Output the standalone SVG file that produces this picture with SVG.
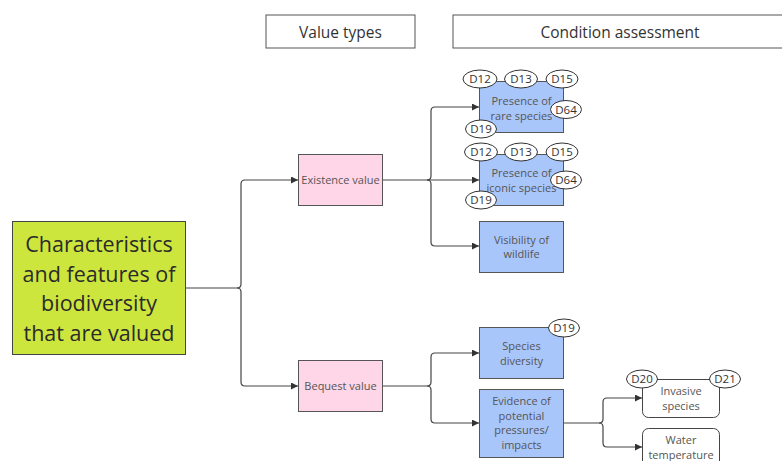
<svg xmlns="http://www.w3.org/2000/svg" width="782" height="461" viewBox="0 0 782 461">
<style>
  text { font-family: "Open Sans", "Noto Sans", "DejaVu Sans", sans-serif; text-anchor: middle; }
  .hdr rect { fill: #ffffff; stroke: #555555; stroke-width: 1; }
  .hdr text { font-size: 15.5px; fill: #333333; }
  .main rect { fill: #cde63e; stroke: #444444; stroke-width: 1; }
  .main text { font-size: 21.5px; fill: #2b2b2b; }
  .val rect { fill: #ffd6e7; stroke: #555555; stroke-width: 1; }
  .cond rect { fill: #a9c6fb; stroke: #555555; stroke-width: 1; }
  .white rect { fill: #ffffff; stroke: #444444; stroke-width: 1; }
  .lbl { font-size: 11px; fill: #555555; }
  .tag ellipse { fill: #ffffff; stroke: #333333; stroke-width: 1; }
  .tag text { font-size: 11.5px; fill: #333333; }
  .conn path { fill: none; stroke: #444444; stroke-width: 1.2; }
</style>
<defs>
  <marker id="arr" viewBox="0 0 10 10" refX="10" refY="5" markerWidth="7" markerHeight="7" markerUnits="userSpaceOnUse" orient="auto">
    <path d="M0,0 L10,5 L0,10 z" fill="#333333"/>
  </marker>
</defs>

<g id="header-value-types" class="hdr">
  <rect x="266" y="15" width="149" height="33"/>
  <text x="340.5" y="37.5">Value types</text>
</g>
<g id="header-condition" class="hdr">
  <rect x="453" y="15" width="340" height="33"/>
  <text x="620" y="37.5">Condition assessment</text>
</g>

<g id="connectors" class="conn">
  <path d="M185,288 H237 Q241,288 241,284 V184 Q241,180 245,180 H298" marker-end="url(#arr)"/>
  <path d="M237,288 Q241,288 241,292 V382 Q241,386 245,386 H298" marker-end="url(#arr)"/>
  <path d="M383,180 H427 Q431,180 431,176 V111 Q431,107 435,107 H479" marker-end="url(#arr)"/>
  <path d="M427,180 H479" marker-end="url(#arr)"/>
  <path d="M427,180 Q431,180 431,184 V242 Q431,246 435,246 H479" marker-end="url(#arr)"/>
  <path d="M383,386 H427 Q431,386 431,382 V357 Q431,353 435,353 H479" marker-end="url(#arr)"/>
  <path d="M427,386 Q431,386 431,390 V419 Q431,423 435,423 H479" marker-end="url(#arr)"/>
  <path d="M564,423 H599 Q603,423 603,419 V402 Q603,398 607,398 H642" marker-end="url(#arr)"/>
  <path d="M599,423 Q603,423 603,427 V443 Q603,447 607,447 H642" marker-end="url(#arr)"/>
</g>

<g id="main" class="main">
  <rect x="12.5" y="221.5" width="173" height="133"/>
  <text x="99" y="252">Characteristics</text>
  <text x="99" y="281.5">and features of</text>
  <text x="99" y="311">biodiversity</text>
  <text x="99" y="340.5">that are valued</text>
</g>

<g id="existence-value" class="val">
  <rect x="298.5" y="154.5" width="84" height="51"/>
  <text class="lbl" x="340.5" y="184">Existence value</text>
</g>
<g id="bequest-value" class="val">
  <rect x="298.5" y="360.5" width="84" height="51"/>
  <text class="lbl" x="340.5" y="390">Bequest value</text>
</g>

<g id="rare-species">
  <g class="cond"><rect x="479.5" y="81.5" width="84" height="51"/></g>
  <text class="lbl" x="521.5" y="105">Presence of</text>
  <text class="lbl" x="521.5" y="119.5">rare species</text>
  <g class="tag">
    <ellipse cx="480" cy="79" rx="17" ry="9"/><text x="480" y="83">D12</text>
    <ellipse cx="521" cy="79" rx="16.5" ry="9"/><text x="521" y="83">D13</text>
    <ellipse cx="562" cy="79" rx="16" ry="9"/><text x="562" y="83">D15</text>
    <ellipse cx="566" cy="109.5" rx="15.5" ry="9"/><text x="566" y="113.5">D64</text>
    <ellipse cx="481" cy="129" rx="15.5" ry="9"/><text x="481" y="133">D19</text>
  </g>
</g>

<g id="iconic-species">
  <g class="cond"><rect x="479.5" y="154.5" width="84" height="51"/></g>
  <text class="lbl" x="521.5" y="177">Presence of</text>
  <text class="lbl" x="521.5" y="191.5">iconic species</text>
  <g class="tag">
    <ellipse cx="481" cy="152" rx="16.5" ry="9"/><text x="481" y="156">D12</text>
    <ellipse cx="521" cy="152" rx="16.5" ry="9"/><text x="521" y="156">D13</text>
    <ellipse cx="562" cy="152" rx="16" ry="9"/><text x="562" y="156">D15</text>
    <ellipse cx="566" cy="180" rx="15.5" ry="9"/><text x="566" y="184">D64</text>
    <ellipse cx="481" cy="200" rx="15.5" ry="9"/><text x="481" y="204">D19</text>
  </g>
</g>

<g id="visibility-wildlife">
  <g class="cond"><rect x="479.5" y="221.5" width="84" height="51"/></g>
  <text class="lbl" x="521.5" y="243.5">Visibility of</text>
  <text class="lbl" x="521.5" y="258">wildlife</text>
</g>

<g id="species-diversity">
  <g class="cond"><rect x="479.5" y="327.5" width="84" height="51"/></g>
  <text class="lbl" x="521.5" y="350">Species</text>
  <text class="lbl" x="521.5" y="364.5">diversity</text>
  <g class="tag">
    <ellipse cx="564" cy="328" rx="15.5" ry="9"/><text x="564" y="332">D19</text>
  </g>
</g>

<g id="evidence-pressures">
  <g class="cond"><rect x="479.5" y="389.5" width="84" height="68"/></g>
  <text class="lbl" x="521.5" y="405">Evidence of</text>
  <text class="lbl" x="521.5" y="419.5">potential</text>
  <text class="lbl" x="521.5" y="434">pressures/</text>
  <text class="lbl" x="521.5" y="448.5">impacts</text>
</g>

<g id="invasive-species">
  <g class="white"><rect x="642.5" y="379.5" width="77" height="38" rx="6"/></g>
  <text class="lbl" x="681" y="395">Invasive</text>
  <text class="lbl" x="681" y="409.5">species</text>
  <g class="tag">
    <ellipse cx="642" cy="379" rx="15.5" ry="9"/><text x="642" y="383">D20</text>
    <ellipse cx="725" cy="379" rx="15.5" ry="9"/><text x="725" y="383">D21</text>
  </g>
</g>

<g id="water-temperature">
  <g class="white"><rect x="642.5" y="428.5" width="77" height="50" rx="6"/></g>
  <text class="lbl" x="681" y="444">Water</text>
  <text class="lbl" x="681" y="458.5">temperature</text>
</g>
</svg>
